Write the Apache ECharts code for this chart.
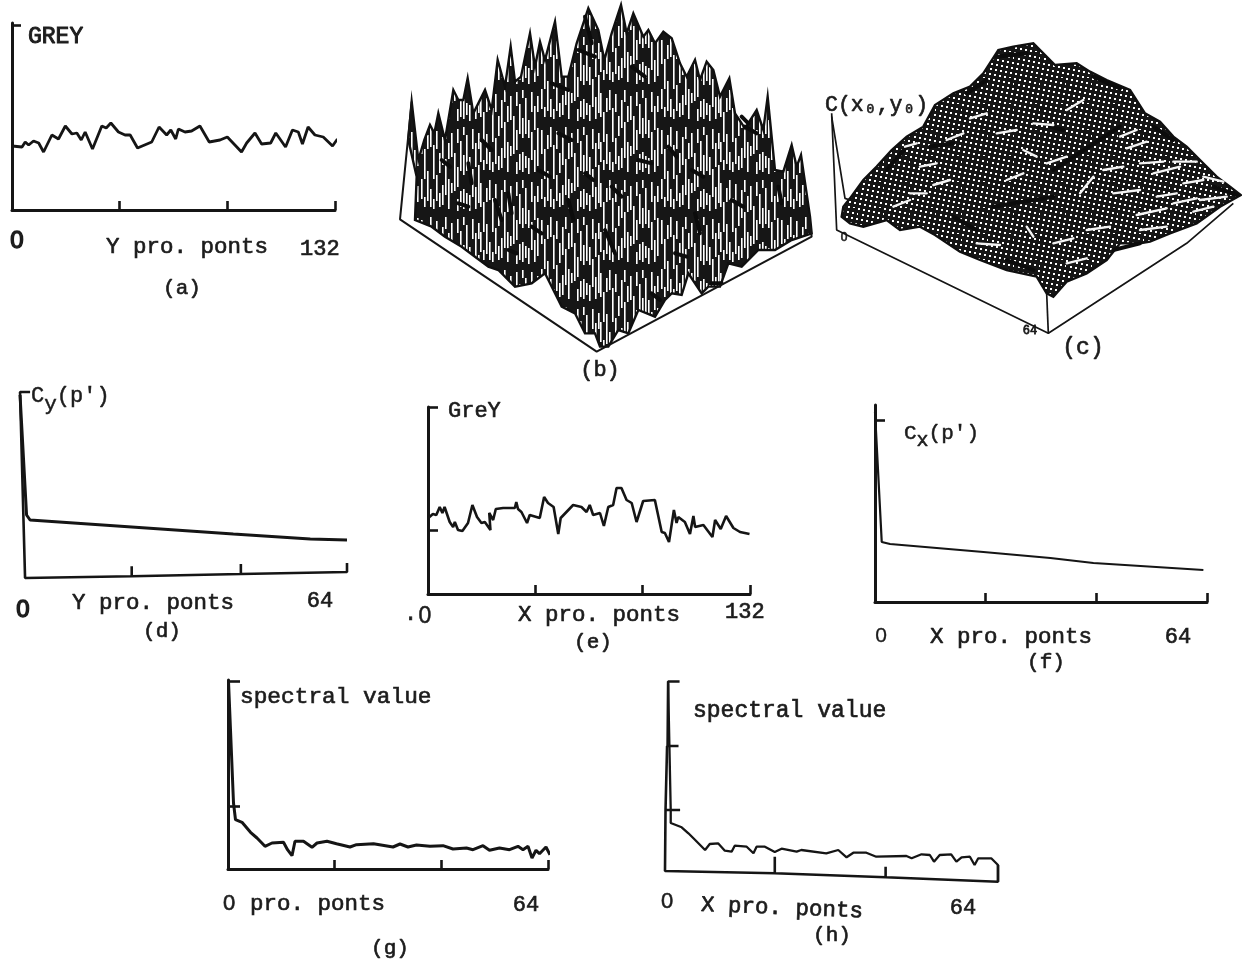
<!DOCTYPE html>
<html><head><meta charset="utf-8">
<style>html,body{margin:0;background:#fff}#c{width:1242px;height:964px;filter:blur(0.45px)}</style>
<script src="https://cdn.jsdelivr.net/npm/echarts@6/dist/echarts.min.js"></script>
</head><body><div id="c"></div>
<script>
// ---------- values (x = projection point, y = height above axis) ----------
const greyY = [[0,64],[4.1,63],[5.4,68],[6.8,65],[8.8,69],[10.9,67],[12.9,58],[16.3,75],[19,71],[21.8,84],[24.5,76],[26.5,77],[28.3,70],[29.9,78],[32.9,61],[36.7,84],[38.5,82],[40.4,87],[43.5,78],[46.2,75],[48.3,75],[51.3,62],[57.1,68],[60.1,83],[63.2,75],[64.9,80],[66.9,71],[68,81],[70.7,78],[73.4,79],[76.8,84],[80.6,68],[85,70],[88,73],[91.1,65],[93.8,58],[95.9,67],[99.3,77],[102,66],[105.7,67],[107.8,77],[111.8,63],[114.6,80],[117,78],[118.7,66],[121,83],[123.8,75],[127.2,73],[131,64],[133,71]];
const greyX = [[0,75.7],[2,80],[3.4,79],[4.8,87],[5.9,81],[6.8,87],[8.9,72],[10.3,67],[11,72],[12.3,64],[14.1,63],[16.4,71],[18.2,89],[20.1,77],[21.9,71],[23.3,72],[25.6,64],[25.1,81],[26.7,74],[27.8,85],[30.8,86],[35.6,86],[36.2,92],[36.9,85],[38.3,82],[40.6,71],[41.7,79],[45.8,76],[47.6,97],[49.2,91],[51.5,87],[53.4,60],[54.4,76],[59.5,89],[62.9,87],[65,82],[66.3,89],[67.7,79],[70.5,81],[72.1,68],[73.9,87],[75.9,89],[77.3,106],[79.3,106],[81.4,94],[83.5,91],[85.5,72],[88.2,93],[93,94],[95.8,62],[97.1,61],[98.8,52],[100.8,84],[101.9,71],[102.6,77],[105.3,72],[107.4,60],[108.8,78],[109.5,67],[112.9,69],[116.6,57],[117.7,74],[120,65],[122.2,78],[125.2,66],[127.9,62],[131.8,60]];
const corrY = [[-1,183],[0.3,63],[1,58],[41.4,44],[56.7,39],[64,38]];
const corrX = [[0,190],[1.3,60],[2.9,58],[20.9,50],[33.8,44],[42.1,39],[63.3,32]];
const specY = [[0.1,187.7],[1.1,66],[1.5,49.3],[2.8,46.7],[4.5,36.7],[5.8,31],[7.4,22.7],[8.8,26],[11.1,26.7],[11.9,19.3],[12.8,13.3],[13.4,27.7],[15.1,27.7],[16.8,21.7],[17.8,26],[19.8,27.7],[21.7,25.3],[24.4,22],[25.7,24.3],[29.1,25.3],[33,22],[34.4,25],[36,22],[37.7,24],[40.4,22.7],[43,23.3],[45,20],[47.7,21],[49,19.3],[51,23.3],[52.3,18.7],[54.3,21],[56.3,19.3],[58,22.7],[59,19.3],[60,22.7],[60.8,11],[61.6,18.7],[62.3,15.3],[63.6,22],[64.4,14.3]];
const specX = [[0.6,187.7],[1.1,61],[1.1,48],[3.2,43.7],[4.5,37.7],[5.8,31],[7.7,21],[8.6,27],[10.2,27.7],[11.5,20.3],[12.8,19.3],[13.4,25.3],[15.7,24.3],[17,17.7],[17.6,24.3],[19.2,24.3],[21.1,19],[22.4,22.3],[25.3,19.3],[26.2,21],[31,17.7],[33.3,21],[34.9,13.7],[36.2,18.3],[38.7,18.3],[40.6,14.3],[46.4,15],[47.4,12.7],[49.3,16.7],[50.9,16],[51.7,9.3],[52.8,16],[55,16.7],[56,9.3],[57,13.7],[58.6,14.3],[59.5,6],[60.2,12.7],[62.7,12.7],[64,6],[64,-10.7]];
// slightly skewed hand-plotted frames of (d) and (h)
const frameD = [[1,186],[-1,186],[0,0],[21.2,1.7],[21.2,11.7],[21.2,1.7],[42.9,4],[42.9,14],[42.9,4],[64,6],[64,15],[64,6]];
const frameH = [[2.8,189.5],[0.6,189.5],[0.5,125],[2.6,125],[0.4,125],[0.1,61],[2.9,61],[0.1,61],[0,0],[21.1,-2.3],[21.1,14.3],[21.1,-2.3],[42.4,-6.3],[42.4,4.3],[42.4,-6.3],[64,-10.7],[64,6]];
// surface (b): silhouette and frame, in projected picture units
const surfB = [[50,305],[70,480],[88,420],[105,375],[118,400],[130,340],[150,420],[175,270],[190,300],[205,300],[218,235],[235,340],[270,270],[290,330],[308,180],[330,260],[347,140],[360,245],[378,230],[405,100],[420,200],[435,125],[450,180],[480,65],[500,230],[520,230],[545,130],[580,25],[610,90],[628,180],[650,100],[678,15],[695,100],[715,40],[745,110],[760,90],[780,130],[805,95],[830,115],[855,190],[875,230],[900,180],[915,240],[935,185],[955,210],[975,290],[1003,235],[1020,340],[1050,385],[1085,330],[1105,390],[1118,290],[1140,510],[1165,515],[1190,435],[1205,500],[1218,465],[1245,650],[1250,700],[1190,720],[1140,750],[1090,750],[1040,800],[1000,790],[975,860],[940,860],[920,880],[880,820],[860,885],[830,880],[810,900],[780,950],[730,930],[700,1000],[670,990],[640,1040],[615,1040],[600,1000],[570,1000],[540,940],[500,920],[480,880],[450,820],[410,850],[360,860],[310,810],[280,800],[240,770],[200,740],[150,710],[110,680],[60,660],[65,530],[40,420]];
const frameB = [[50,305],[15,658],[605,1055],[1250,710],[1240,640]];
const blotsB = [[300,600,320,660],[630,690,660,760],[490,400,530,420],[730,480,770,490],[340,750,365,760],[840,760,875,770],[1050,380,1085,400],[950,850,980,850],[430,510,465,530],[570,50,590,130],[820,440,845,470],[190,610,220,620],[550,150,600,170],[1040,350,1060,370],[650,560,680,590],[470,250,520,270],[260,420,290,450],[570,520,595,540],[890,510,925,530],[140,480,165,500],[710,200,750,230],[1010,600,1045,620],[410,680,440,700],[770,880,795,900],[340,580,350,640],[520,600,535,660],[900,640,915,700],[1150,560,1160,610],[220,490,230,550]];
// surface (c)
const surfC = [[70,530],[90,505],[130,450],[170,410],[215,360],[260,320],[310,290],[345,225],[400,190],[450,170],[490,130],[535,60],[580,50],[640,40],[670,70],[705,105],[770,100],[810,125],[860,150],[930,180],[975,250],[1020,275],[1060,320],[1100,350],[1140,390],[1190,440],[1230,470],[1262,495],[1200,530],[1130,580],[1050,610],[990,635],[960,640],[900,640],[860,690],[800,730],[740,755],[700,800],[680,790],[650,740],[560,720],[480,690],[420,665],[345,615],[300,590],[240,600],[200,570],[130,590],[90,580],[65,560]];
const frameC = [[35,250],[50,600],[685,910],[1100,640],[1240,520]];
const spikeC = [[35,260],[75,505],[90,510]];
const postC = [[680,790],[685,910]];
const streaksC = [[270,490,320,490],[340,465,390,450],[450,265,500,250],[530,310,590,300],[610,360,650,380],[640,280,700,285],[680,400,740,380],[740,240,790,210],[920,355,980,335],[960,400,1030,395],[1000,430,1080,410],[1060,395,1130,395],[1090,460,1150,450],[1150,440,1210,455],[1060,520,1130,505],[950,555,1040,535],[1010,500,1070,490],[960,600,1040,590],[1120,545,1180,530],[880,490,960,480],[700,640,760,625],[620,590,640,620],[780,490,820,440],[300,410,350,400],[220,530,270,510],[255,350,290,340],[380,330,430,310],[470,640,540,645],[740,700,800,685],[800,600,870,590],[560,450,610,430],[900,320,950,300],[1140,510,1220,500],[850,420,910,410]];
const bandsC = [[520,530,700,500],[700,420,900,290],[330,350,400,340],[690,290,730,300],[530,80,620,70],[1180,470,1250,495],[880,660,960,640],[440,190,500,150],[820,140,900,175],[1000,290,1060,330],[200,420,260,350],[400,560,470,600],[560,690,640,720]];
// tick positions and label texts
const ticks132 = [44, 88, 132], ticks64 = [21.3, 42.7, 64];
const txtGrey = 'GREY', txtGreyE = 'GreY', txtY = 'Y pro. ponts', txtX = 'X pro. ponts', txtSpec = 'spectral value', txtPro = 'pro. ponts';
const tickZero = '0', tickDot = '.', tick132 = '132', tick64 = '64', txtC = 'C(x₀,y₀)';
const caps = ['(a)','(b)','(c)','(d)','(e)','(f)','(g)','(h)'];

// ---------- styling ----------
const ink = '#151515', font = '"Liberation Mono"', zeroFont = '"Liberation Sans"';
function tile(w, h, paint){const c=document.createElement('canvas');c.width=w;c.height=h;const g=c.getContext('2d');g.fillStyle='#161616';g.fillRect(0,0,w,h);g.fillStyle='#fff';paint(g);return {image:c,repeat:'repeat'};}
const slivers=[[0,3,24],[0,52,20],[3,22,30],[3,70,10],[6,8,14],[6,44,30],[9,0,20],[9,62,18],[12,18,34],[12,72,10],[15,4,18],[15,48,26],[18,26,20],[18,66,14],[21,10,28],[21,58,20],[24,0,12],[24,32,36],[27,16,16],[27,52,30],[30,6,24],[30,56,10],[33,26,38],[36,2,14],[36,40,20],[36,72,12],[39,14,30],[39,64,16],[42,0,8],[42,28,20],[42,62,20],[45,8,36],[45,66,12],[48,30,18],[48,68,16],[51,2,20],[51,42,28],[54,16,24],[54,60,22],[57,6,16],[57,38,38]];
const hatchB = tile(120,90,g=>{slivers.forEach(s=>{
  g.fillRect(s[0],s[1],1.6,s[2]);
  const y=(s[1]+37)%90; g.fillRect(s[0]+61,y,1.6,Math.min(s[2],90-y)); if(y+s[2]>90) g.fillRect(s[0]+61,0,1.6,y+s[2]-90);
});});
const meshC = tile(26,26,g=>{for(let i=0;i<26;i++)for(let j=0;j<5;j++){const x=(5*i-j+104)%26,y=(i+5*j)%26;g.fillRect(x,y,1.7,1.7);}});

// ---------- panels ----------
const P = [
 {l:12,t:23,w:323,h:187,xn:0,xm:132,ym:187,d:greyY,ticks:ticks132,yt:[185],ytl:9,lw:2.8},
 {l:428,t:407,w:322,h:187,xn:0,xm:132,ym:187,d:greyX,ticks:ticks132,yt:[187,64],ytl:10,lw:2.6},
 {l:15,t:393,w:332,h:185,xn:-2,xm:64,ym:185,d:corrY,frame:frameD,lw:3},
 {l:875,t:405,w:332,h:197,xn:0,xm:64,ym:197,d:corrX,ticks:ticks64,yt:[182],ytl:10,lw:2.2},
 {l:228,t:680,w:320,h:189,xn:0,xm:64,ym:189,d:specY,ticks:ticks64,yt:[62.7,188],ytl:12,lw:3},
 {l:665,t:682,w:333,h:189,xn:0,xm:64,ym:189,d:specX,frame:frameH,lw:2.3}
];
const grid=[],xAxis=[],yAxis=[],series=[];
P.forEach((p,i)=>{
  grid.push({left:p.l,top:p.t,width:p.w,height:p.h});
  const axisStyle={show:!p.frame,lineStyle:{color:ink,width:3}};
  xAxis.push({type:'value',gridIndex:i,min:p.xn,max:p.xm,axisLine:{...axisStyle,onZero:false},splitLine:{show:false},axisLabel:{show:false},
    axisTick:{show:!p.frame,inside:true,length:9,lineStyle:{color:ink,width:2.6},customValues:p.ticks||[]}});
  yAxis.push({type:'value',gridIndex:i,min:0,max:p.ym,axisLine:{...axisStyle,onZero:false},splitLine:{show:false},axisLabel:{show:false},
    axisTick:{show:!p.frame,inside:true,length:p.ytl||9,lineStyle:{color:ink,width:2.6},customValues:p.yt||[]}});
  series.push({type:'line',xAxisIndex:i,yAxisIndex:i,data:p.d,showSymbol:false,clip:false,lineStyle:{color:ink,width:p.lw},silent:true});
  if(p.frame) series.push({type:'line',xAxisIndex:i,yAxisIndex:i,data:p.frame,showSymbol:false,clip:false,lineStyle:{color:ink,width:2.6},silent:true});
});
function surfacePanel(l,t,w,h,xm,ym){
  const i=grid.length;
  grid.push({left:l,top:t,width:w,height:h});
  xAxis.push({type:'value',gridIndex:i,min:0,max:xm,show:false});
  yAxis.push({type:'value',gridIndex:i,min:0,max:ym,inverse:true,show:false});
  return i;
}
function polygonSeries(i,data,fill){
  return {type:'custom',xAxisIndex:i,yAxisIndex:i,silent:true,clip:false,data,encode:{x:0,y:1},
    renderItem:(params,api)=>params.dataIndex?null:{type:'polygon',shape:{points:data.map(q=>api.coord(q))},style:{fill,stroke:'#101010',lineWidth:2.4}}};
}
function segmentSeries(i,data,color,width){
  return {type:'custom',xAxisIndex:i,yAxisIndex:i,silent:true,clip:false,data,encode:{x:[0,2],y:[1,3]},
    renderItem:(params,api)=>{const a=api.coord([api.value(0),api.value(1)]),b=api.coord([api.value(2),api.value(3)]);
      return {type:'line',shape:{x1:a[0],y1:a[1],x2:b[0],y2:b[1]},style:{stroke:color,lineWidth:width,lineCap:'round'}};}};
}
function thin(i,data,w){return {type:'line',xAxisIndex:i,yAxisIndex:i,data,showSymbol:false,clip:false,lineStyle:{color:ink,width:w},silent:true};}
const ib=surfacePanel(395,0,430,390,1290,1170);
series.push(thin(ib,frameB,2),polygonSeries(ib,surfB,hatchB),segmentSeries(ib,blotsB,'#0c0c0c',4));
const ic=surfacePanel(820,30,422,350,1266,1050);
series.push(thin(ic,frameC,1.7),thin(ic,spikeC,1.7),thin(ic,postC,1.7),polygonSeries(ic,surfC,meshC),segmentSeries(ic,bandsC,'#0c0c0c',4),segmentSeries(ic,streaksC,'#f4f4f4',2.4));

// ---------- text ----------
const W=.65;
function T(text,x,y,size,align,extra){return {type:'text',x,y,silent:true,rotation:(extra&&extra.rot)||0,
  style:Object.assign({text,fill:'#1c1c1c',font:`${size}px ${(extra&&extra.font)||font}`,textAlign:align||'left',textVerticalAlign:'middle',stroke:'#1c1c1c',lineWidth:W},extra&&extra.style)};}
const Z=(x,y,s,w)=>T(tickZero,x,y,s,'center',{font:zeroFont,style:{lineWidth:w}});
const sub=base=>({rich:{a:{font:`${base}px ${font}`,fill:'#1c1c1c',stroke:'#1c1c1c',lineWidth:.5},s:{font:`${base-1}px ${font}`,fill:'#1c1c1c',stroke:'#1c1c1c',lineWidth:.5,padding:[16,0,0,0]}}});
const graphic=[
 T(txtGrey,28,37,23,'left',{style:{lineWidth:1}}),Z(17,241,24,1.4),T(txtY,106,247,22.5),T(tick132,300,249,22),T(caps[0],182,288,21,'center'),
 T(caps[1],600,370,22,'center'),T(caps[2],1083,348,23,'center'),T(txtC,825,105,21.5),Z(844,238,12,.6),T(tick64,1030,331,12,'center',{style:{lineWidth:.8}}),
 T("{a|C}{s|y}{a|(p')}",31,396,22,'left',{style:{...sub(22),lineWidth:0}}),Z(23,610,24,1.4),T(txtY,72,603,22.5),T(tick64,320,601,22,'center'),T(caps[3],162,631,21,'center'),
 T(txtGreyE,448,411,22),T(tickDot,404,614,22),Z(425,617,23,.5),T(txtX,518,615,22.5),T(tick132,725,612,22),T(caps[4],593,642,21,'center'),
 T("{a|C}{s|x}{a|(p')}",904,433,21,'left',{style:{...sub(21),lineWidth:0}}),Z(881,636,21,.3),T(txtX,930,637,22.5),T(tick64,1178,637,22,'center'),T(caps[5],1046,662,21,'center'),
 T(txtSpec,240,697,22.8),Z(229,904,22,.6),T(txtPro,250,904,22.5),T(tick64,526,905,22,'center'),T(caps[6],390,948,21,'center'),
 T(txtSpec,693,711,23),Z(667,902,22,.5),T(txtX,701,905,22.5,'left',{rot:-0.04}),T(tick64,963,908,22,'center'),T(caps[7],832,935,21,'center')
];

const chart=echarts.init(document.getElementById('c'),null,{renderer:'canvas'});
chart.setOption({animation:false,backgroundColor:'#fff',grid,xAxis,yAxis,series,graphic});
</script></body></html>
